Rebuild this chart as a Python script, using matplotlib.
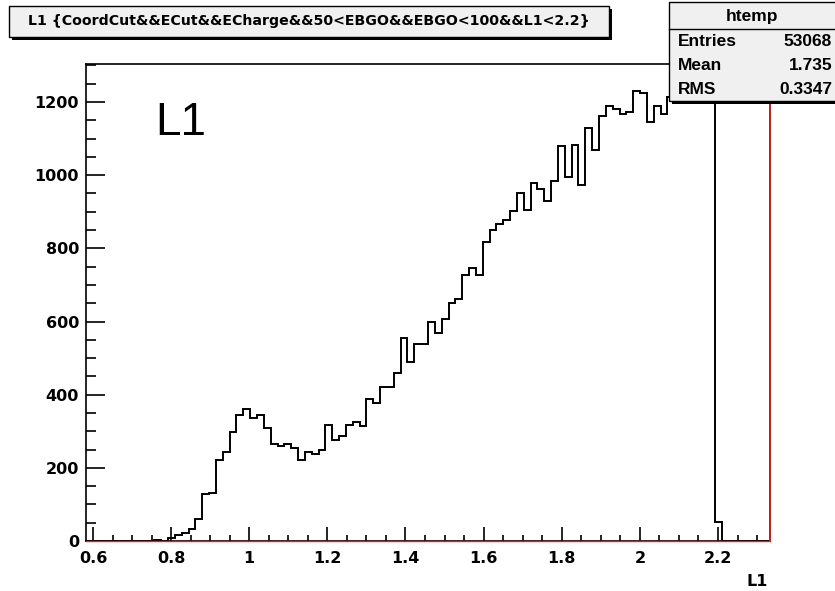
import numpy as np
import matplotlib
matplotlib.use("Agg")
import matplotlib.pyplot as plt
from matplotlib.patches import Rectangle
from matplotlib.ticker import MultipleLocator, FuncFormatter

plt.rcParams['font.family'] = ['Liberation Sans', 'DejaVu Sans']

# ---------------- data ----------------
x_min = 0.5821
x_max = 2.3331
n_bins = 100
counts = [0, 0, 0, 0, 0, 0, 0, 0, 0, 0,
          3, 1, 8, 16, 21, 32, 59, 128, 132, 222,
          242, 299, 345, 360, 336, 345, 308, 264, 260, 264,
          254, 222, 243, 238, 249, 317, 276, 288, 317, 326,
          315, 388, 377, 422, 422, 460, 554, 488, 539, 539,
          598, 568, 606, 650, 661, 728, 746, 728, 817, 851,
          866, 878, 901, 951, 905, 978, 962, 930, 985, 1080,
          996, 1083, 974, 1129, 1068, 1162, 1188, 1182, 1167, 1172,
          1229, 1225, 1145, 1188, 1168, 1215, 1242, 1220, 1235, 1210,
          1230, 1225, 53, 0, 0, 0, 0, 0, 0, 0]
y_max = 1304
title_text = "L1 {CoordCut&&ECut&&ECharge&&50<EBGO&&EBGO<100&&L1<2.2}"
stats_name = "htemp"
stats_labels = ["Entries", "Mean", "RMS"]
stats_values = ["53068", "1.735", "0.3347"]
xlabel = "L1"
big_label = "L1"

W, H = 835, 591
fig = plt.figure(figsize=(W / 100, H / 100), dpi=100)
fig.patch.set_facecolor("white")
WIDE = "DejaVu Sans"


def fx(x):
    return x / W


def fy(y):
    return 1 - y / H


ax = fig.add_axes([fx(86), fy(541), (770 - 86) / W, (541 - 64) / H])
edges = np.linspace(x_min, x_max, n_bins + 1)
ax.stairs(counts, edges, color="black", linewidth=1.4, zorder=3)
ax.set_xlim(x_min, x_max)
ax.set_ylim(0, y_max)

# red outline pieces
ax.plot([x_min, x_max], [0, 0], color="#e02020", lw=1.0, zorder=4, clip_on=False)
ax.plot([x_max, x_max], [0, y_max], color="#e02020", lw=1.2, zorder=4, clip_on=False)

for s in ax.spines.values():
    s.set_linewidth(1.2)
    s.set_color("black")

ax.xaxis.set_major_locator(MultipleLocator(0.2))
ax.xaxis.set_minor_locator(MultipleLocator(0.05))
ax.yaxis.set_major_locator(MultipleLocator(200))
ax.yaxis.set_minor_locator(MultipleLocator(50))
ax.xaxis.set_major_formatter(FuncFormatter(lambda v, p: f"{v:g}"))
ax.yaxis.set_major_formatter(FuncFormatter(lambda v, p: f"{v:g}"))
ax.tick_params(axis="x", which="major", direction="in", length=10, width=1.2, pad=7,
               labelsize=11.5, labelfontfamily=WIDE)
ax.tick_params(axis="x", which="minor", direction="in", length=4.5, width=1.2)
ax.tick_params(axis="y", which="major", direction="in", length=14, width=1.2, pad=5,
               labelsize=11.5, labelfontfamily=WIDE)
ax.tick_params(axis="y", which="minor", direction="in", length=7, width=1.2)
for lab in ax.get_xticklabels() + ax.get_yticklabels():
    lab.set_fontweight("bold")

# big L1 label inside
fig.text(fx(155), fy(135), big_label, fontsize=33, ha="left", va="baseline")

# x-axis label
fig.text(fx(768), fy(582), xlabel, fontsize=11.5, fontweight="bold", family=WIDE,
         ha="right", va="center")

# title box with shadow
tb_x0, tb_y0, tb_x1, tb_y1 = 9, 6, 609, 37
fig.patches.append(Rectangle((fx(tb_x0 + 3), fy(tb_y1 + 3)), (tb_x1 - tb_x0) / W,
                             (tb_y1 - tb_y0) / H, transform=fig.transFigure,
                             facecolor="black", edgecolor="none", zorder=5))
fig.patches.append(Rectangle((fx(tb_x0), fy(tb_y1)), (tb_x1 - tb_x0) / W,
                             (tb_y1 - tb_y0) / H, transform=fig.transFigure,
                             facecolor="#f0f0f0", edgecolor="black", lw=1, zorder=6))
t = fig.text(fx((tb_x0 + tb_x1) / 2), fy((tb_y0 + tb_y1) / 2), title_text, fontsize=10,
             fontweight="bold", family=WIDE, ha="center", va="center", zorder=7)
renderer = fig.canvas.get_renderer()
w_now = t.get_window_extent(renderer).width
t.set_fontsize(10 * 561 / w_now)

# stats box with shadow
sb_x0, sb_y0, sb_x1, sb_y1 = 669, 2, 836, 101
fig.patches.append(Rectangle((fx(sb_x0 + 3), fy(sb_y1 + 3)), (sb_x1 - sb_x0) / W,
                             (sb_y1 - sb_y0) / H, transform=fig.transFigure,
                             facecolor="black", edgecolor="none", zorder=5))
fig.patches.append(Rectangle((fx(sb_x0), fy(sb_y1)), (sb_x1 - sb_x0) / W,
                             (sb_y1 - sb_y0) / H, transform=fig.transFigure,
                             facecolor="#f0f0f0", edgecolor="black", lw=1, zorder=6))
fig.lines.append(plt.Line2D([fx(sb_x0), fx(sb_x1)], [fy(29), fy(29)],
                            transform=fig.transFigure, color="black", lw=1, zorder=7))
fig.text(fx((sb_x0 + 835) / 2), fy(16), stats_name, fontsize=12.5, fontweight="bold",
         ha="center", va="center", zorder=8)
row_y = [42, 66, 90]
for lab, val, yy in zip(stats_labels, stats_values, row_y):
    fig.text(fx(678), fy(yy), lab, fontsize=12.5, fontweight="bold", ha="left",
             va="center", zorder=8)
    fig.text(fx(832), fy(yy), val, fontsize=12.5, fontweight="bold", ha="right",
             va="center", zorder=8)

fig.savefig("out.png", dpi=100)
